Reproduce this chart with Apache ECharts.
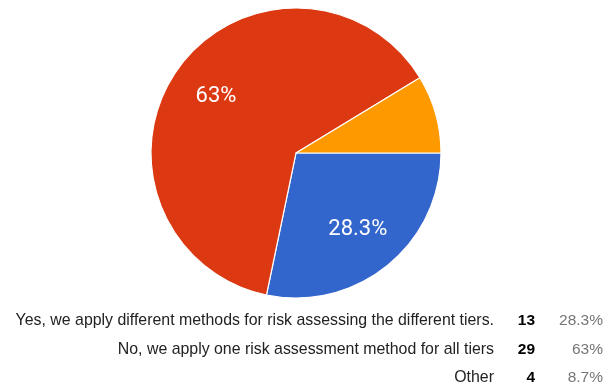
<!DOCTYPE html>
<html>
<head>
<meta charset="utf-8">
<script src="https://cdn.jsdelivr.net/npm/echarts@6/dist/echarts.min.js"></script>
<style>
  html, body { margin: 0; padding: 0; background: #fff; }
  #chart { width: 614px; height: 388px; }
</style>
</head>
<body>
<div id="chart"></div>
<script>
// Survey answers and their response counts
const answers = [
  'Yes, we apply different methods for risk assessing the different tiers.',
  'No, we apply one risk assessment method for all tiers',
  'Other'
];
const counts = [13, 29, 4];
const colors = ['#3366cc', '#dc3912', '#ff9900'];
// Slices below this share carry no in-slice label
const labelMinPercent = 10;

const total = counts.reduce((a, b) => a + b, 0);
function pctText(v) {
  const p = Math.round(v / total * 1000) / 10;
  return p + '%';
}

const center = [296, 153];
const radius = 145;

const sliceData = answers.map((name, i) => ({
  name: name,
  value: counts[i],
  itemStyle: { color: colors[i] }
}));

const labelData = answers.map((name, i) => ({
  name: name,
  value: counts[i],
  label: { show: counts[i] / total * 100 >= labelMinPercent }
}));

// Summary table under the pie: answer, count, share
const rowY = [321, 350, 378];
const tableFont = '"Liberation Sans", Arial, sans-serif';
const tableText = [];
answers.forEach((name, i) => {
  tableText.push({
    type: 'text', x: 494, y: rowY[i],
    style: { text: name, align: 'right', verticalAlign: 'middle',
             font: '15.9px ' + tableFont, fill: '#222222' }
  });
  tableText.push({
    type: 'text', x: 535, y: rowY[i],
    style: { text: String(counts[i]), align: 'right', verticalAlign: 'middle',
             font: 'bold 15.5px ' + tableFont, fill: '#000000' }
  });
  tableText.push({
    type: 'text', x: 603, y: rowY[i],
    style: { text: pctText(counts[i]), align: 'right', verticalAlign: 'middle',
             font: '15.5px ' + tableFont, fill: '#757575' }
  });
});

const chart = echarts.init(document.getElementById('chart'), null, { renderer: 'canvas' });
chart.setOption({
  animation: false,
  backgroundColor: '#ffffff',
  series: [
    {
      type: 'pie',
      center: center,
      radius: [0, radius],
      startAngle: 0,
      clockwise: true,
      silent: true,
      label: { show: false },
      labelLine: { show: false },
      itemStyle: { borderColor: '#ffffff', borderWidth: 1.2 },
      data: sliceData
    },
    {
      // Transparent ring that carries the percentage labels
      type: 'pie',
      center: center,
      radius: [45, radius],
      startAngle: 0,
      clockwise: true,
      silent: true,
      itemStyle: { color: 'rgba(0,0,0,0)', borderWidth: 0 },
      labelLine: { show: false },
      label: {
        position: 'inside',
        color: '#ffffff',
        fontFamily: 'Roboto, Arial, sans-serif',
        fontSize: 22,
        formatter: p => pctText(p.value)
      },
      data: labelData
    }
  ],
  graphic: { elements: tableText }
});
</script>
</body>
</html>
